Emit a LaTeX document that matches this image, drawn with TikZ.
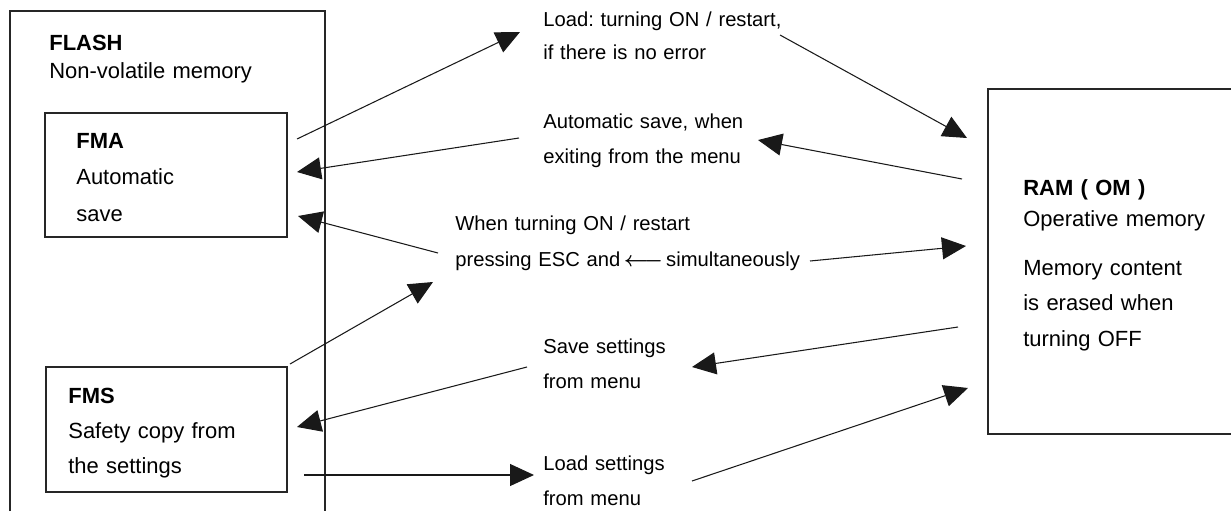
\documentclass[tikz,border=0pt]{standalone}
\usepackage{fontspec}
\setmainfont{Liberation Sans}
\usetikzlibrary{arrows.meta}
\frenchspacing
\tikzset{
  memframe/.style={draw=black!85, line width=1.1pt},
  memtext/.style={anchor=base west, inner sep=0pt, text width=8cm, align=left, font=\fontsize{12.5}{20}\selectfont},
  flowtext/.style={memtext, font=\fontsize{11.5}{20}\selectfont},
  flow/.style={draw=black!90, line width=0.6pt, -{Triangle[length=0.48cm, width=0.44cm]}},
}

\begin{document}
\begin{tikzpicture}[x=0.02cm, y=-0.02cm]
\useasboundingbox (0,0) rectangle (1231,511);
\draw[memframe] (10,511) |- (325,11) -- (325,511);
\draw[memframe] (45,113) rectangle (287,237);
\draw[memframe] (46,367) rectangle (287,492);
\draw[memframe] (1231,89) -| (988,434) -- (1231,434);
\node[memtext] (flash) at (49,50) {\textbf{FLASH}\\[-4pt]Non-volatile memory};
\node[memtext] (fma) at (76,148) {\textbf{FMA}\\[1pt]Automatic\\[1pt]save};
\node[memtext] (fms) at (68,403) {\textbf{FMS}\\Safety copy from\\the settings};
\node[memtext, text width=4cm] (ram) at (1023,195) {\textbf{RAM ( OM )}\\[-2pt]Operative memory\\[8pt]Memory content\\is erased when\\turning OFF};
\node[flowtext] (loadlbl) at (543,26) {Load: turning ON / restart,\\[-1pt]if there is no error};
\node[flowtext] (autolbl) at (543,128) {Automatic save, when\\exiting from the menu};
\node[flowtext] (esclbl) at (455,230) {When turning ON / restart\\[1pt]pressing ESC and\,{\boldmath$\longleftarrow$}\,simultaneously};
\node[flowtext] (savelbl) at (543,353) {Save settings\\from menu};
\node[flowtext] (setlbl) at (543,470) {Load settings\\from menu};
\coordinate (fmaA) at (297,139);
\coordinate (fmaB) at (297,172);
\coordinate (fmaC) at (298,216);
\coordinate (fmsA) at (290,364);
\coordinate (fmsB) at (297,427);
\coordinate (fmsC) at (304,475);
\coordinate (ramA) at (967,138);
\coordinate (ramB) at (962,179);
\coordinate (ramC) at (966,246);
\coordinate (ramD) at (958,327);
\coordinate (ramE) at (968,388);
\coordinate (loadin) at (520,32);
\coordinate (loadout) at (780,35);
\coordinate (autoin) at (758,140);
\coordinate (autoout) at (519,138);
\coordinate (escin) at (433,282);
\coordinate (escoutL) at (438,253);
\coordinate (escoutR) at (810,261);
\coordinate (savein) at (692,367);
\coordinate (saveout) at (527,367);
\coordinate (setin) at (534,475);
\coordinate (setout) at (692,481);
\draw[flow] (fmaA) -- (loadin);
\draw[flow] (loadout) -- (ramA);
\draw[flow] (ramB) -- (autoin);
\draw[flow] (autoout) -- (fmaB);
\draw[flow] (escoutL) -- (fmaC);
\draw[flow] (fmsA) -- (escin);
\draw[flow] (escoutR) -- (ramC);
\draw[flow] (ramD) -- (savein);
\draw[flow] (saveout) -- (fmsB);
\draw[flow] (fmsC) -- (setin);
\draw[flow] (setout) -- (ramE);
\end{tikzpicture}
\end{document}
